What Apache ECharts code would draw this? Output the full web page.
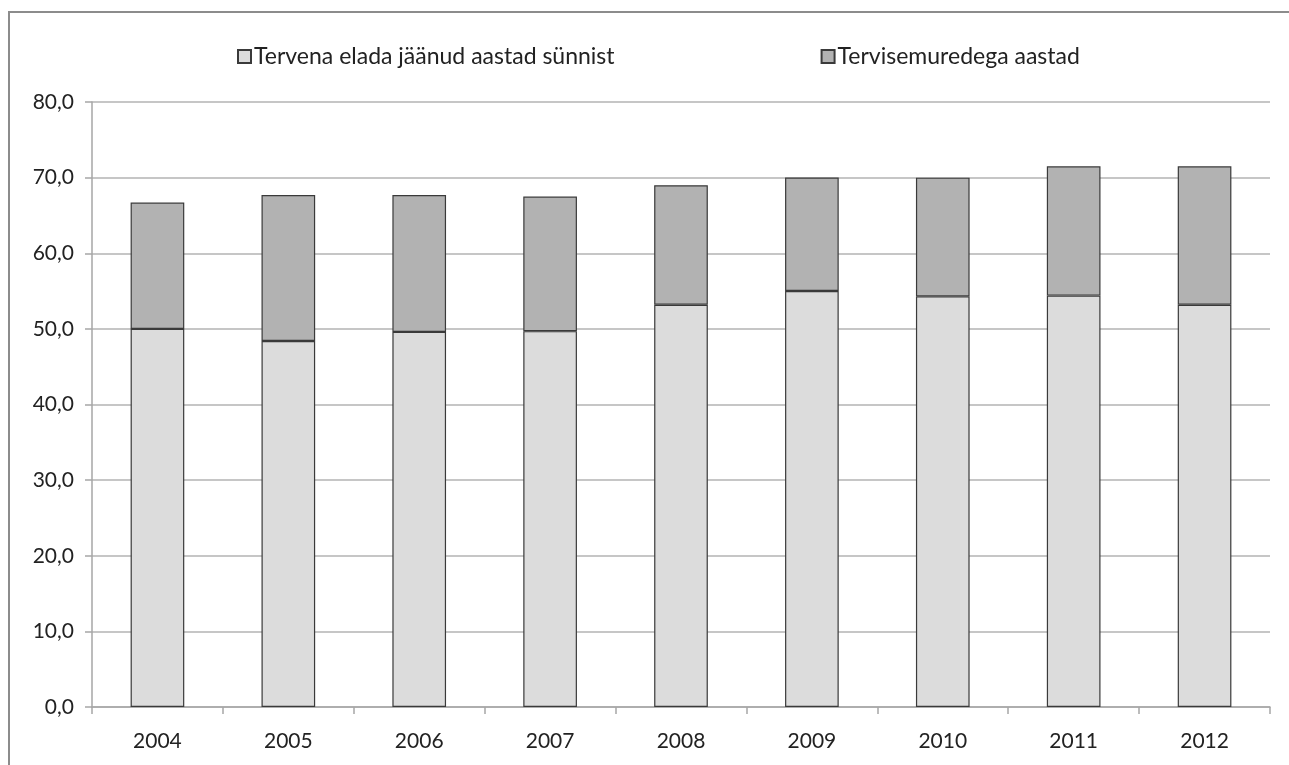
<!DOCTYPE html>
<html>
<head>
<meta charset="utf-8">
<script src="https://cdn.jsdelivr.net/npm/echarts@6/dist/echarts.min.js"></script>
<style>
  html, body { margin: 0; padding: 0; background: #fff; }
  #chart { width: 1289px; height: 765px; }
</style>
</head>
<body>
<div id="chart"></div>
<script>
// Years on the category axis
const years = ['2004', '2005', '2006', '2007', '2008', '2009', '2010', '2011', '2012'];
// Healthy life years at birth
const healthyYears = [50.0, 48.4, 49.6, 49.7, 53.2, 55.0, 54.3, 54.4, 53.2];
// Years lived with health problems (stacked on top)
const problemYears = [16.7, 19.3, 18.1, 17.8, 15.8, 15.0, 15.7, 17.1, 18.3];
const seriesNames = ['Tervena elada jäänud aastad sünnist', 'Tervisemuredega aastad'];

const chart = echarts.init(document.getElementById('chart'));
const font = 'Lato, "Open Sans", sans-serif';

chart.setOption({
  animation: false,
  backgroundColor: '#ffffff',
  textStyle: { fontFamily: font },
  graphic: [{
    type: 'rect',
    shape: { x: 9, y: 12, width: 1300, height: 800 },
    style: { fill: 'none', stroke: '#8c8c8c', lineWidth: 2 },
    silent: true
  }],
  legend: {
    top: 40,
    left: 232,
    itemGap: 206,
    itemWidth: 13,
    itemHeight: 13,
    icon: 'rect',
    textStyle: { fontSize: 23, color: '#222', fontFamily: font, padding: [0, 0, 0, -2] },
    data: seriesNames
  },
  grid: { left: 92, right: 19, top: 102, bottom: 58, containLabel: false },
  xAxis: {
    type: 'category',
    data: years,
    axisLine: { lineStyle: { color: '#a6a6a6', width: 1.5 } },
    axisTick: { show: true, length: 7, lineStyle: { color: '#a6a6a6', width: 1.5 } },
    axisLabel: { fontSize: 21, color: '#222', margin: 24, fontFamily: font }
  },
  yAxis: {
    type: 'value',
    min: 0,
    max: 80,
    interval: 10,
    axisLine: { show: true, lineStyle: { color: '#a6a6a6', width: 1.5 } },
    axisTick: { show: true, length: 7, lineStyle: { color: '#a6a6a6', width: 1.5 } },
    splitLine: { lineStyle: { color: '#b3b3b3', width: 1.5 } },
    axisLabel: {
      fontSize: 21, color: '#222', margin: 18, fontFamily: font,
      formatter: v => v.toFixed(1).replace('.', ',')
    }
  },
  series: [
    {
      name: seriesNames[0],
      type: 'bar',
      stack: 'total',
      data: healthyYears,
      barWidth: '41%',
      itemStyle: { color: '#dcdcdc', borderColor: '#3a3a3a', borderWidth: 1.2 }
    },
    {
      name: seriesNames[1],
      type: 'bar',
      stack: 'total',
      data: problemYears,
      barWidth: '41%',
      itemStyle: { color: '#b2b2b2', borderColor: '#3a3a3a', borderWidth: 1.2 }
    }
  ]
});
</script>
</body>
</html>
